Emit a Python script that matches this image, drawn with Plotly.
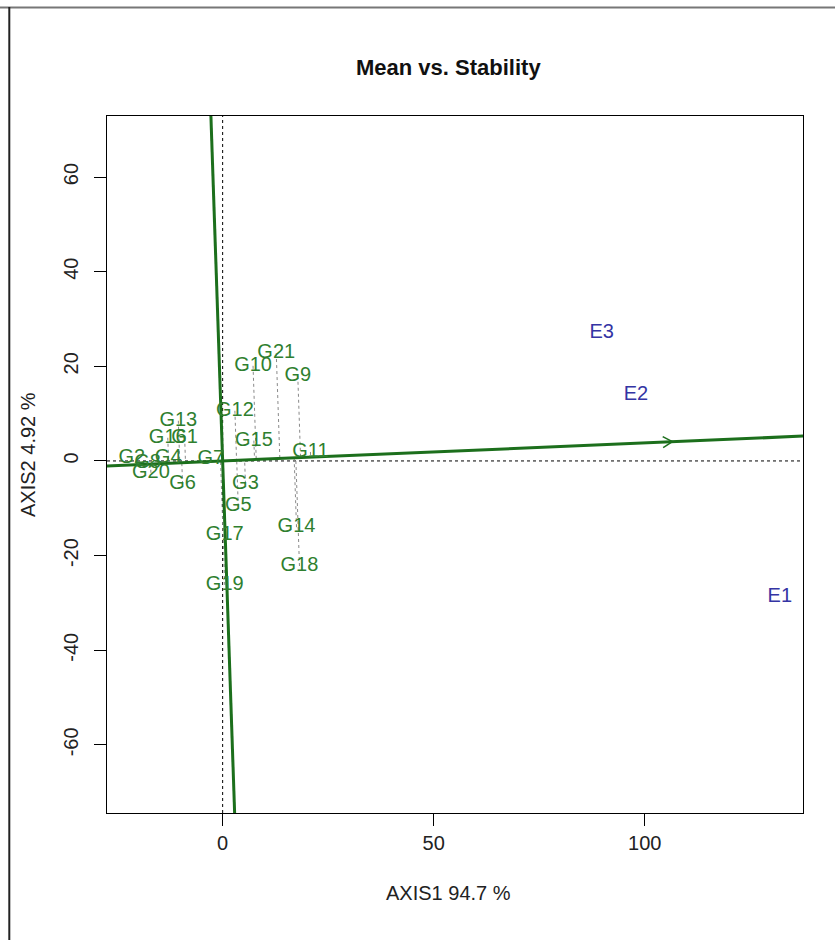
import numpy as np
import plotly.graph_objects as go

# ---------------- data ----------------
gen_labels = ["G1", "G2", "G3", "G4", "G5", "G6", "G7", "G8", "G9", "G10", "G11",
              "G12", "G13", "G14", "G15", "G16", "G17", "G18", "G19", "G20", "G21"]
gen_x = [-9.0, -21.5, 5.4, -12.9, 3.7, -9.5, -2.8, -17.8, 17.8, 7.2, 20.8,
         2.9, -10.5, 17.5, 7.4, -13.0, 0.5, 18.2, 0.5, -17.0, 12.7]
gen_y = [4.9, 0.6, -4.8, 0.6, -9.6, -4.9, 0.4, -0.4, 18.0, 20.1, 1.9,
         10.6, 8.5, -14.0, 4.3, 4.9, -15.6, -22.2, -26.2, -2.5, 22.8]

env_labels = ["E1", "E2", "E3"]
env_x = [132.0, 97.9, 89.8]
env_y = [-28.8, 14.0, 27.0]

x_ticks = [0, 50, 100]
y_ticks = [-60, -40, -20, 0, 20, 40, 60]

title_text = "Mean vs. Stability"
x_title = "AXIS1 94.7 %"
y_title = "AXIS2 4.92 %"

# ---------------- derived geometry ----------------
XR = [-27.4, 137.5]
YR = [-74.4, 72.9]
W, H = 835, 940
ML, MR, MT, MB = 107, 32, 116, 127
pw, ph = W - ML - MR, H - MT - MB
kx = pw / (XR[1] - XR[0])
ky = ph / (YR[1] - YR[0])

mx, my = float(np.mean(env_x)), float(np.mean(env_y))
s = my / mx  # slope of the average-environment axis

GREEN_T = "#2f7f2f"
GREEN_L = "#1c6f1c"
BLUE = "#3434a4"
FONT = "Liberation Sans, Arial, sans-serif"

fig = go.Figure()

# dotted reference lines through origin
fig.add_trace(go.Scatter(x=[XR[0], XR[1]], y=[0, 0], mode="lines",
                         line=dict(color="black", width=1, dash="dot"),
                         hoverinfo="skip", showlegend=False))
fig.add_trace(go.Scatter(x=[0, 0], y=[YR[0], YR[1]], mode="lines",
                         line=dict(color="black", width=1, dash="dot"),
                         hoverinfo="skip", showlegend=False))

# projection lines of genotypes onto the ATC abscissa
px_, py_ = [], []
for gx, gy in zip(gen_x, gen_y):
    t = (gx + s * gy) / (1 + s * s)
    px_ += [gx, t, None]
    py_ += [gy, s * t, None]
fig.add_trace(go.Scatter(x=px_, y=py_, mode="lines",
                         line=dict(color="#8a8a8a", width=1, dash="dot"),
                         hoverinfo="skip", showlegend=False))

# ATC abscissa and ordinate
big = 1000
fig.add_trace(go.Scatter(x=[-big, big], y=[-big * s, big * s], mode="lines",
                         line=dict(color=GREEN_L, width=3),
                         hoverinfo="skip", showlegend=False))
fig.add_trace(go.Scatter(x=[big * s, -big * s], y=[-big, big], mode="lines",
                         line=dict(color=GREEN_L, width=3),
                         hoverinfo="skip", showlegend=False))

# open arrowhead at the average environment
ang = np.arctan2(s * ky, kx)
L = 11.0
ax_, ay_ = [], []
for da in (np.radians(150), np.radians(-150)):
    dxp = L * np.cos(ang + da)
    dyp = L * np.sin(ang + da)
    ax_ += [mx + dxp / kx, mx, None]
    ay_ += [my + dyp / ky, my, None]
fig.add_trace(go.Scatter(x=ax_, y=ay_, mode="lines",
                         line=dict(color=GREEN_L, width=1.5),
                         hoverinfo="skip", showlegend=False))

# labels
fig.add_trace(go.Scatter(x=gen_x, y=gen_y, mode="text", text=gen_labels,
                         textposition="middle center",
                         textfont=dict(color=GREEN_T, size=20, family=FONT),
                         hoverinfo="skip", showlegend=False))
fig.add_trace(go.Scatter(x=env_x, y=env_y, mode="text", text=env_labels,
                         textposition="middle center",
                         textfont=dict(color=BLUE, size=20, family=FONT),
                         hoverinfo="skip", showlegend=False))

axis_common = dict(showgrid=False, zeroline=False, showline=True, mirror=True,
                   linecolor="black", linewidth=1, ticks="outside", ticklen=12,
                   tickcolor="black", tickwidth=1,
                   tickfont=dict(size=20, color="#222", family=FONT))
fig.update_xaxes(range=XR, tickvals=x_ticks, ticktext=[str(v) for v in x_ticks],
                 ticklabelstandoff=0, **axis_common)
fig.update_yaxes(range=YR, tickvals=y_ticks, ticktext=[str(v) for v in y_ticks],
                 tickangle=-90, ticklabelstandoff=8, **axis_common)

annotations = [
    dict(text="<b>" + title_text + "</b>", x=(448 - ML) / pw, y=(MT + ph - 67) / ph,
         xref="paper", yref="paper", showarrow=False, xanchor="center", yanchor="middle",
         font=dict(size=22, color="#111", family=FONT)),
    dict(text=x_title, x=(448 - ML) / pw, y=(MT + ph - 893) / ph,
         xref="paper", yref="paper", showarrow=False, xanchor="center", yanchor="middle",
         font=dict(size=20, color="#222", family=FONT)),
    dict(text=y_title, x=(28 - ML) / pw, y=(MT + ph - 455) / ph, textangle=-90,
         xref="paper", yref="paper", showarrow=False, xanchor="center", yanchor="middle",
         font=dict(size=20, color="#222", family=FONT)),
]

shapes = [
    dict(type="line", xref="paper", yref="paper",
         x0=(0 - ML) / pw, x1=(W - ML) / pw,
         y0=(MT + ph - 7.5) / ph, y1=(MT + ph - 7.5) / ph,
         line=dict(color="#777", width=2)),
    dict(type="line", xref="paper", yref="paper",
         x0=(9.3 - ML) / pw, x1=(9.3 - ML) / pw,
         y0=(MT + ph - 7) / ph, y1=(MT + ph - H) / ph,
         line=dict(color="#222", width=2)),
]

fig.update_layout(width=W, height=H, autosize=False,
                  margin=dict(l=ML, r=MR, t=MT, b=MB),
                  paper_bgcolor="white", plot_bgcolor="white",
                  annotations=annotations, shapes=shapes,
                  font=dict(family=FONT))

fig.write_html("out.html", config={"displayModeBar": False},
               post_script="document.body.style.margin='0';document.body.style.overflow='hidden';")
